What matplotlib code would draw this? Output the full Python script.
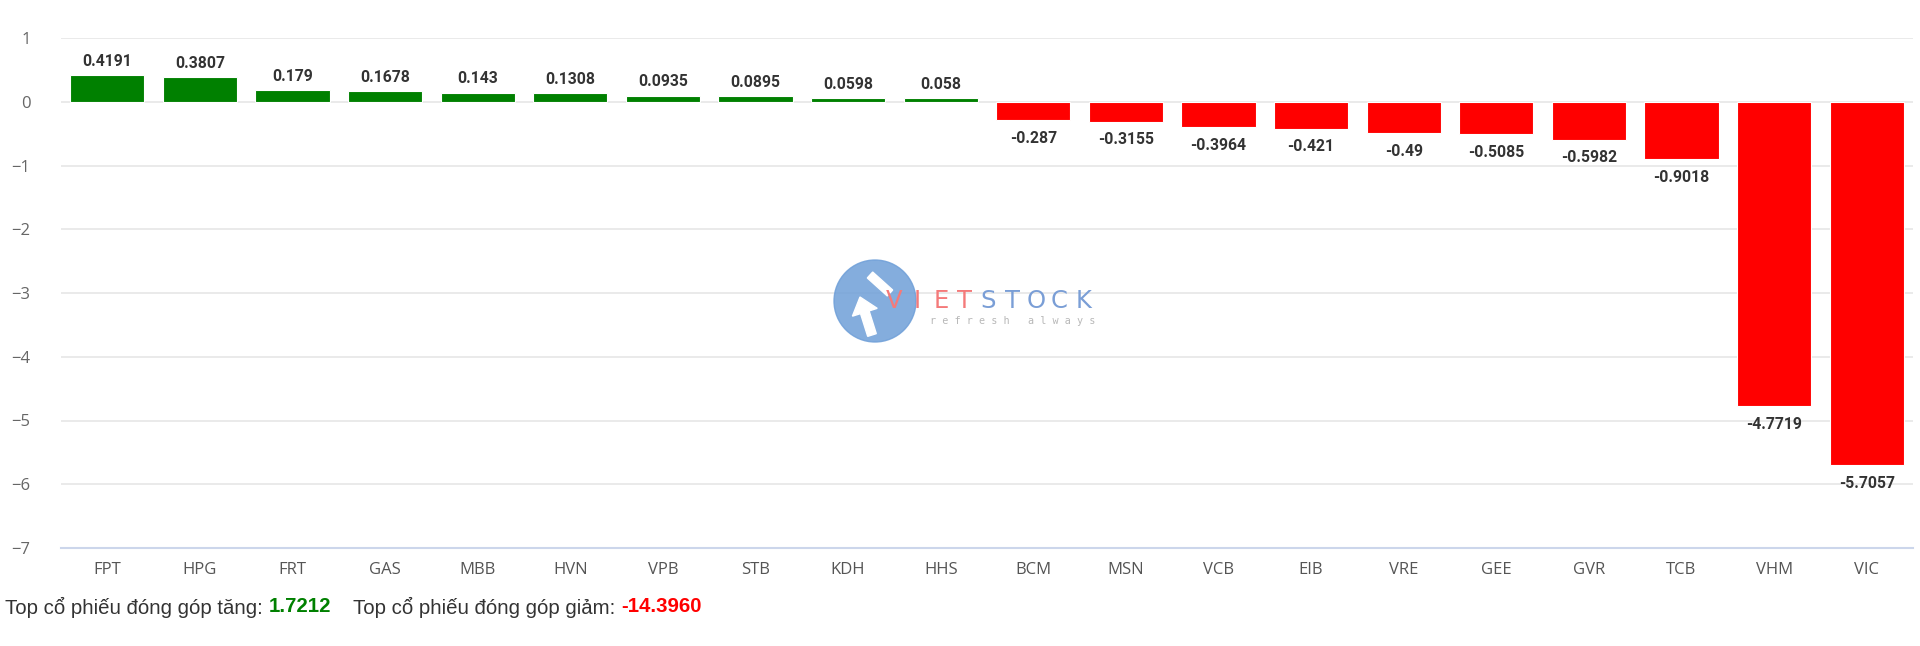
import matplotlib
matplotlib.use("Agg")
import matplotlib.pyplot as plt
from matplotlib.patches import Circle, FancyArrow

categories = ["FPT", "HPG", "FRT", "GAS", "MBB", "HVN", "VPB", "STB", "KDH", "HHS",
              "BCM", "MSN", "VCB", "EIB", "VRE", "GEE", "GVR", "TCB", "VHM", "VIC"]
values = [0.4191, 0.3807, 0.179, 0.1678, 0.143, 0.1308, 0.0935, 0.0895, 0.0598, 0.058,
          -0.287, -0.3155, -0.3964, -0.421, -0.49, -0.5085, -0.5982, -0.9018, -4.7719, -5.7057]
value_labels = ["0.4191", "0.3807", "0.179", "0.1678", "0.143", "0.1308", "0.0935", "0.0895",
                "0.0598", "0.058", "-0.287", "-0.3155", "-0.3964", "-0.421", "-0.49", "-0.5085",
                "-0.5982", "-0.9018", "-4.7719", "-5.7057"]
yticks = [1, 0, -1, -2, -3, -4, -5, -6, -7]
total_up = "1.7212"
total_down = "-14.3960"

GREEN = "#008000"
RED = "#ff0000"

fig = plt.figure(figsize=(19.2, 6.46), dpi=100)
ax = fig.add_axes([61/1920, 1-548/646, (1913-61)/1920, (548-38)/646])

x = list(range(len(categories)))
colors = [GREEN if v >= 0 else RED for v in values]
ax.bar(x, values, width=0.8, color=colors, edgecolor="white", linewidth=0.8, zorder=3)

ax.set_xlim(-0.5, len(categories) - 0.5)
ax.set_ylim(-7, 1)
ax.set_yticks(yticks)
ax.set_yticklabels([("\u2212%d" % -t if t < 0 else str(t)) for t in yticks])
ax.set_xticks(x)
ax.set_xticklabels(categories)
ax.grid(axis="y", color="#e6e6e6", linewidth=1.2, zorder=0)
for s in ["top", "right", "left"]:
    ax.spines[s].set_visible(False)
ax.spines["bottom"].set_color("#ccd6eb")
ax.spines["bottom"].set_linewidth(1.5)
ax.tick_params(axis="both", length=0)
ax.tick_params(axis="y", labelsize=12, labelcolor="#666666", pad=22)
ax.tick_params(axis="x", labelsize=12, labelcolor="#555555", pad=10)
for lbl in ax.get_xticklabels() + ax.get_yticklabels():
    lbl.set_family("Open Sans")

for xi, v, lab in zip(x, values, value_labels):
    off = 10 if v >= 0 else -13
    ax.annotate(lab, (xi, v), xytext=(0, off), textcoords="offset points",
                ha="center", va="center", fontsize=11.3, fontweight="bold",
                color="#333333", family="Roboto", zorder=5)

# watermark logo (approximate)
logo_ax = fig.add_axes([0, 0, 1, 1], facecolor="none")
logo_ax.set_xlim(0, 1920)
logo_ax.set_ylim(646, 0)
logo_ax.axis("off")
logo_ax.add_patch(Circle((875, 301), 41, color="#6f9fd8", alpha=0.85, zorder=1))
logo_ax.add_patch(FancyArrow(872, 335, -12, -38, width=9, head_width=26, head_length=16,
                             color="white", zorder=2, length_includes_head=True))
logo_ax.add_patch(FancyArrow(870, 275, 20, 18, width=8, head_width=0.1, head_length=0.1,
                             color="white", zorder=2))
brand = "VIETSTOCK"
step = (1095 - 882) / len(brand)
for i, ch in enumerate(brand):
    col = "#f47a7a" if i < 4 else "#7a9ed6"
    logo_ax.text(882 + step * (i + 0.5), 301, ch, color=col, fontsize=17.5,
                 family="DejaVu Sans", va="center", ha="center", zorder=3)
logo_ax.text(930, 321, "r e f r e s h   a l w a y s", color="#b8b8b8", fontsize=7.3,
             family="DejaVu Sans Mono", va="center", ha="left", zorder=3)

# footer
fig.canvas.draw()
renderer = fig.canvas.get_renderer()
parts = [("Top cổ phiếu đóng góp tăng: ", "#333333", "normal", 0),
         (total_up, GREEN, "bold", 0),
         ("Top cổ phiếu đóng góp giảm: ", "#333333", "normal", 22),
         (total_down, RED, "bold", 0)]
xpos = 5
ypos = 607
for txt, col, wt, gap in parts:
    xpos += gap
    t = fig.text(xpos/1920, 1-ypos/646, txt, color=col, fontweight=wt, fontsize=14.7,
                 family="Liberation Sans", va="center", ha="left")
    bb = t.get_window_extent(renderer=renderer)
    xpos += bb.width

fig.savefig("out.png", dpi=100, facecolor="white")
